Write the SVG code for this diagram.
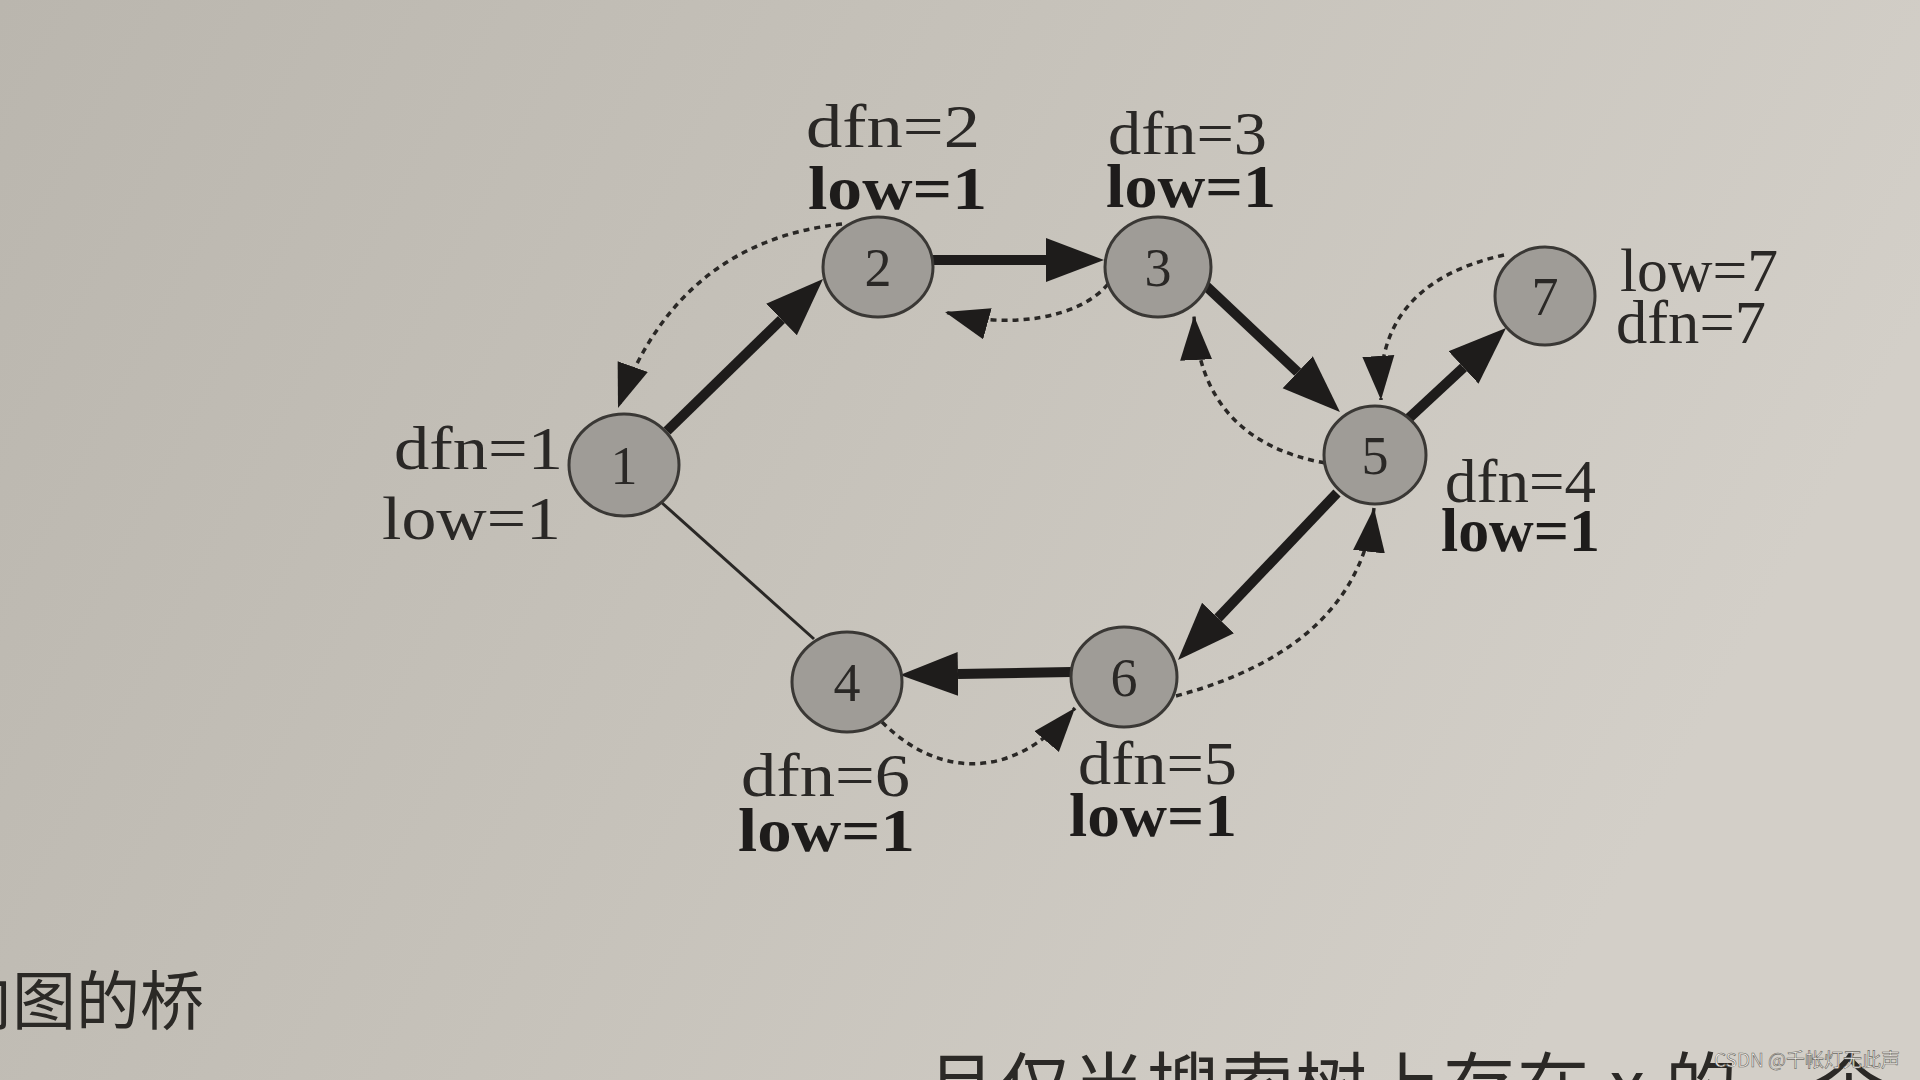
<svg xmlns="http://www.w3.org/2000/svg" width="1920" height="1080" viewBox="0 0 1920 1080">
<defs>
<linearGradient id="paper" x1="0" y1="0" x2="1" y2="0.3">
<stop offset="0" stop-color="#bab6ae"/>
<stop offset="0.5" stop-color="#c6c2ba"/>
<stop offset="1" stop-color="#d3cfc8"/>
</linearGradient>
<marker id="big" markerUnits="userSpaceOnUse" viewBox="0 -24 60 48" refX="0" refY="0" markerWidth="60" markerHeight="48" orient="auto">
<path d="M0,-22 L58,0 L0,22 Z" fill="#1e1c1b"/>
</marker>
<marker id="small" markerUnits="userSpaceOnUse" viewBox="0 -18 46 36" refX="44" refY="0" markerWidth="46" markerHeight="36" orient="auto">
<path d="M0,-16 L44,0 L0,16 Z" fill="#1e1c1b"/>
</marker>
<style>
.tree{stroke:#1e1c1b;stroke-width:10;fill:none;marker-end:url(#big)}
.back{stroke:#2a2826;stroke-width:3.5;fill:none;stroke-dasharray:6 5;marker-end:url(#small)}
.plain{stroke:#2a2826;stroke-width:3;fill:none}
.node{fill:#9f9c97;stroke:#3a3835;stroke-width:3}
.num{font-family:"Liberation Serif",serif;font-size:54px;fill:#2a2826;text-anchor:middle}
.lab{font-family:"Liberation Serif",serif;font-size:62px;fill:#2a2826}
.b{font-weight:bold;fill:#1e1c1b}
.cjk{font-family:"Noto Sans CJK SC",sans-serif;fill:#2b2926}
</style>
</defs>
<rect width="1920" height="1080" fill="url(#paper)"/>

<g id="connectors">
<path class="tree" d="M667,431 L781.5,319.5"/>
<path class="tree" d="M933,260 L1046,260"/>
<path class="tree" d="M1205,285 L1297.7,372.2"/>
<path class="tree" d="M1408,419 L1463.5,367.5"/>
<path class="tree" d="M1337,493 L1218,618"/>
<path class="tree" d="M1071,672 L958,674"/>
<path class="plain" d="M661,502 L814,639"/>
<path class="back" d="M842,224 Q677,242 618,408"/>
<path class="back" d="M1108,284 C1080,318 1010,330 945,312"/>
<path class="back" d="M1325,463 Q1200,440 1194,316"/>
<path class="back" d="M1504,255 Q1374,284 1381,400"/>
<path class="back" d="M1176,696 Q1358,647 1374,508"/>
<path class="back" d="M882,722 C935,775 1010,785 1075,708"/>
</g>

<g id="node1">
<ellipse class="node" cx="624" cy="465" rx="55" ry="51"/>
<text class="num" x="624" y="484">1</text>
<text class="lab" x="394" y="469" font-size="66" textLength="169" lengthAdjust="spacingAndGlyphs">dfn=1</text>
<text class="lab" x="382" y="539" font-size="66" textLength="179" lengthAdjust="spacingAndGlyphs">low=1</text>
</g>
<g id="node2">
<ellipse class="node" cx="878" cy="267" rx="55" ry="50"/>
<text class="num" x="878" y="286">2</text>
<text class="lab" x="806" y="147" textLength="174" lengthAdjust="spacingAndGlyphs">dfn=2</text>
<text class="lab b" x="808" y="209" textLength="179" lengthAdjust="spacingAndGlyphs">low=1</text>
</g>
<g id="node3">
<ellipse class="node" cx="1158" cy="267" rx="53" ry="50"/>
<text class="num" x="1158" y="286">3</text>
<text class="lab" x="1108" y="154" textLength="159" lengthAdjust="spacingAndGlyphs">dfn=3</text>
<text class="lab b" x="1106" y="207" textLength="170" lengthAdjust="spacingAndGlyphs">low=1</text>
</g>
<g id="node5">
<ellipse class="node" cx="1375" cy="455" rx="51" ry="49"/>
<text class="num" x="1375" y="474">5</text>
<text class="lab" x="1445" y="502" font-size="58" textLength="151" lengthAdjust="spacingAndGlyphs">dfn=4</text>
<text class="lab b" x="1441" y="551" font-size="58" textLength="159" lengthAdjust="spacingAndGlyphs">low=1</text>
</g>
<g id="node7">
<ellipse class="node" cx="1545" cy="296" rx="50" ry="49"/>
<text class="num" x="1545" y="315">7</text>
<text class="lab" x="1620" y="291" font-size="58" textLength="158" lengthAdjust="spacingAndGlyphs">low=7</text>
<text class="lab" x="1616" y="343" font-size="58" textLength="150" lengthAdjust="spacingAndGlyphs">dfn=7</text>
</g>
<g id="node6">
<ellipse class="node" cx="1124" cy="677" rx="53" ry="50"/>
<text class="num" x="1124" y="696">6</text>
<text class="lab" x="1078" y="784" textLength="159" lengthAdjust="spacingAndGlyphs">dfn=5</text>
<text class="lab b" x="1069" y="836" textLength="168" lengthAdjust="spacingAndGlyphs">low=1</text>
</g>
<g id="node4">
<ellipse class="node" cx="847" cy="682" rx="55" ry="50"/>
<text class="num" x="847" y="701">4</text>
<text class="lab" x="741" y="796" font-size="64" textLength="169" lengthAdjust="spacingAndGlyphs">dfn=6</text>
<text class="lab b" x="738" y="851" font-size="64" textLength="177" lengthAdjust="spacingAndGlyphs">low=1</text>
</g>

<text class="cjk" x="-52" y="1024" font-size="64">向图的桥</text>
<text class="cjk" x="925" y="1112" font-size="72" letter-spacing="2">且仅当搜索树上存在 x 的一个</text>
<text x="1714" y="1067" font-family="Noto Sans CJK SC, sans-serif" font-size="19" fill="#f4f2ee" stroke="#6a6760" stroke-width="0.6">CSDN @千帐灯无此声</text>
</svg>
